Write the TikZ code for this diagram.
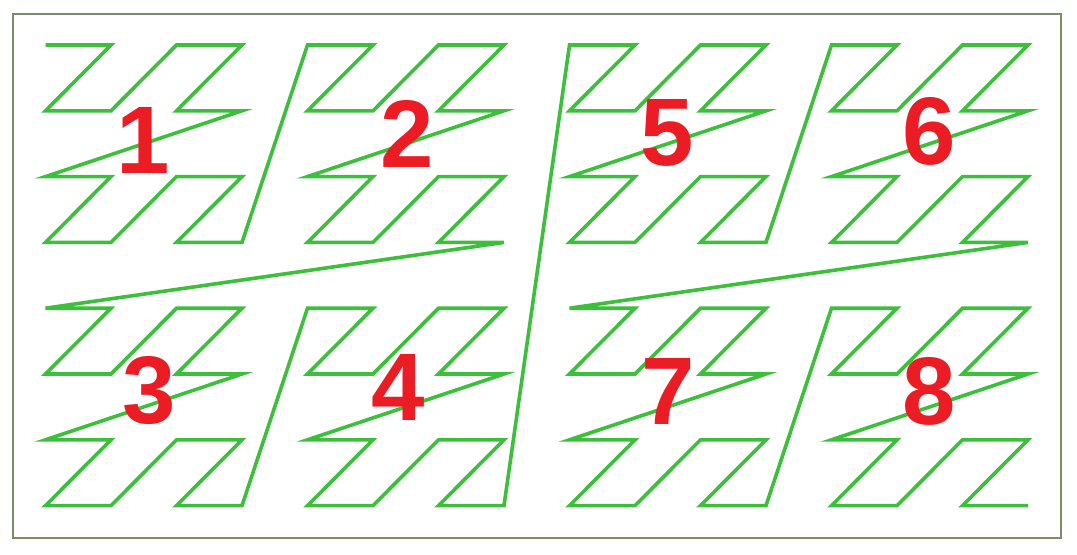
\documentclass[tikz,border=0pt]{standalone}
\usepackage{fontspec}
\setmainfont{Liberation Sans}
\usetikzlibrary{positioning}
\definecolor{zgreen}{RGB}{60,192,60}
\definecolor{zred}{RGB}{236,28,36}
\definecolor{zframe}{RGB}{122,142,102}
\tikzset{
  zcurve/.style={line width=1.8pt, zgreen, line join=miter},
  zframeln/.style={line width=1pt, zframe},
  zlabel/.style={inner sep=0pt, text=zred, font=\bfseries\fontsize{48}{48}\selectfont},
}

\begin{document}
\begin{tikzpicture}[x=0.5pt, y=-0.5pt]
    \useasboundingbox (0,0) rectangle (1077,554);
    % frame
    \draw[zframeln] (12.5,13.5) rectangle (1061,538);
    % Z-order curve, 16 x 8 points
    \draw[zcurve] (45.5,45)
      \foreach \n [evaluate=\n as \cx using {45.5+65.5*(mod(\n,2)+2*mod(floor(\n/4),2)+4*mod(floor(\n/16),2)+8*mod(floor(\n/64),2))},
                   evaluate=\n as \cy using {45+65.8*(mod(floor(\n/2),2)+2*mod(floor(\n/8),2)+4*mod(floor(\n/32),2))}]
        in {1,...,127} { -- (\cx,\cy) };
    % block numbers
    \node[zlabel] (b1) at (143,140) {1};
    \node[zlabel] (b2) at (407,134) {2};
    \node[zlabel] (b3) at (149,391) {3};
    \node[zlabel] (b4) at (398,387) {4};
    \node[zlabel] (b5) at (667,133) {5};
    \node[zlabel] (b6) at (929,131) {6};
    \node[zlabel] (b7) at (668,391) {7};
    \node[zlabel] (b8) at (929,391) {8};
\end{tikzpicture}
\end{document}
